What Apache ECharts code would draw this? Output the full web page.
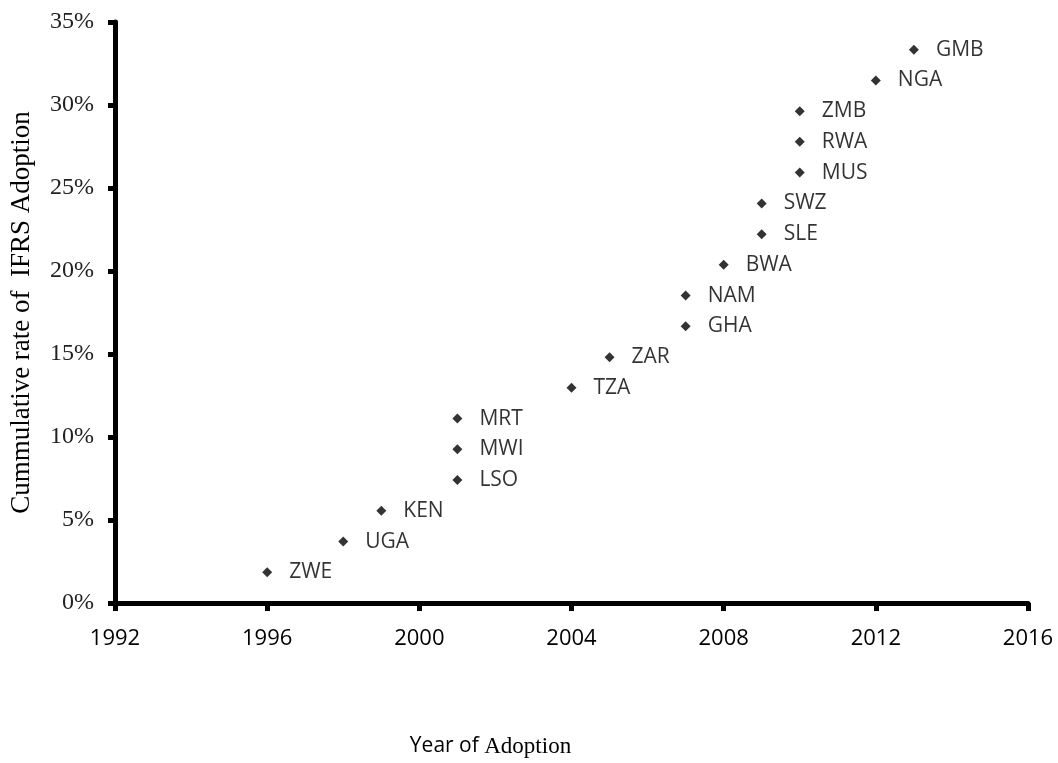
<!DOCTYPE html>
<html>
<head>
<meta charset="utf-8">
<script src="https://cdn.jsdelivr.net/npm/echarts@6/dist/echarts.min.js"></script>
<style>
  html, body { margin: 0; padding: 0; background: #fff; }
  #chart { width: 1058px; height: 763px; }
</style>
</head>
<body>
<div id="chart"></div>
<script>
// 国家代码、采用年份、累计采用率(%)
const countries = ["ZWE", "UGA", "KEN", "LSO", "MWI", "MRT", "TZA", "ZAR", "GHA",
  "NAM", "BWA", "SLE", "SWZ", "MUS", "RWA", "ZMB", "NGA", "GMB"];
const years = [1996, 1998, 1999, 2001, 2001, 2001, 2004, 2005, 2007,
  2007, 2008, 2009, 2009, 2010, 2010, 2010, 2012, 2013];
const rates = [1.85, 3.70, 5.56, 7.41, 9.26, 11.11, 12.96, 14.81, 16.67,
  18.52, 20.37, 22.22, 24.07, 25.93, 27.78, 29.63, 31.48, 33.33];

const sans = "Open Sans";
const serif = "Liberation Serif";

const chart = echarts.init(document.getElementById("chart"));

var option = {
  animation: false,
  grid: {
    left: 113,
    right: 30,
    top: 22,
    bottom: 157,
    containLabel: false
  },
  xAxis: {
    type: "value",
    min: 1992,
    max: 2016,
    interval: 4,
    // x轴标题：前半无衬线，后半衬线
    name: "Year of {b|Adoption}",
    nameLocation: "middle",
    nameGap: 132,
    nameTextStyle: {
      fontFamily: sans,
      fontSize: 21,
      color: "#000",
      padding: [0, 162, 0, 0],
      rich: {
        b: { fontFamily: serif, fontSize: 23, color: "#000" }
      }
    },
    splitLine: { show: false },
    axisLine: { lineStyle: { color: "#000", width: 5 } },
    axisTick: { inside: false, length: 8, lineStyle: { color: "#000", width: 5 } },
    axisLabel: {
      fontFamily: sans,
      fontSize: 22,
      color: "#000",
      margin: 25,
      showMinLabel: true,
      showMaxLabel: true,
      formatter: function (v) { return String(v); }
    }
  },
  yAxis: {
    type: "value",
    min: 0,
    max: 35,
    interval: 5,
    name: "Cummulative rate of  IFRS Adoption",
    nameLocation: "middle",
    nameGap: 80,
    nameTextStyle: { fontFamily: serif, fontSize: 27, color: "#000" },
    splitLine: { show: false },
    axisLine: { show: true, lineStyle: { color: "#000", width: 5 } },
    axisTick: { show: true, inside: false, length: 7, lineStyle: { color: "#000", width: 5 } },
    axisLabel: {
      fontFamily: serif,
      fontSize: 24,
      color: "#222",
      margin: 21,
      formatter: function (v) { return v + "%"; }
    }
  },
  series: [
    {
      type: "scatter",
      symbol: "diamond",
      symbolSize: 10,
      itemStyle: { color: "#000" },
      label: {
        show: true,
        position: "right",
        distance: 17,
        fontFamily: sans,
        fontSize: 21,
        color: "#000",
        formatter: function (p) { return countries[p.dataIndex]; }
      },
      data: years.map(function (y, i) { return [y, rates[i]]; })
    }
  ]
};

chart.setOption(option);
</script>
</body>
</html>
